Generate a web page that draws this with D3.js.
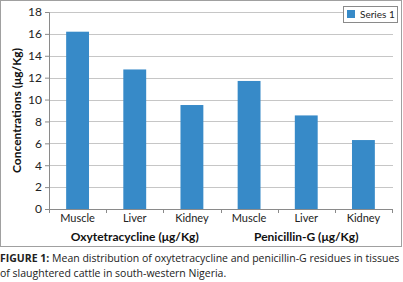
<!DOCTYPE html>
<html>
<head>
<meta charset="utf-8">
<script src="https://cdn.jsdelivr.net/npm/d3@7"></script>
<style>
  body { margin: 0; background: #fff; }
  svg { display: block; }
</style>
</head>
<body>
<svg id="chart" width="403" height="282"></svg>
<script>
// data
const tissues = ["Muscle", "Liver", "Kidney", "Muscle", "Liver", "Kidney"];
const groups = ["Oxytetracycline (μg/Kg)", "Penicillin-G (μg/Kg)"];
const series1 = [16.2, 12.75, 9.5, 11.7, 8.55, 6.3];
const yTicks = [0, 2, 4, 6, 8, 10, 12, 14, 16, 18];
const seriesName = "Series 1";
const captionBold = "FIGURE 1:";
const captionLines = [
  " Mean distribution of oxytetracycline and penicillin-G residues in tissues",
  "of slaughtered cattle in south-western Nigeria."
];

const svg = d3.select("#chart");
const font = "Lato, 'Open Sans', sans-serif";
const margin = { top: 12, right: 11, bottom: 73, left: 49 };
const width = 403 - margin.left - margin.right;
const height = 282 - margin.top - margin.bottom;

// chart frame
svg.append("rect")
  .attr("x", 0.5).attr("y", 0.5)
  .attr("width", 401).attr("height", 246)
  .attr("fill", "#fff").attr("stroke", "#a0a0a0");

const g = svg.append("g")
  .attr("transform", `translate(${margin.left},${margin.top})`);

const keys = tissues.map((d, i) => i);
const x = d3.scaleBand().domain(keys).range([0, width]).paddingInner(0.6).paddingOuter(0.3);
const y = d3.scaleLinear().domain([0, 18]).range([height, 0]);

// gridlines
g.selectAll(".grid")
  .data(yTicks.filter(d => d > 0))
  .join("line")
  .attr("class", "grid")
  .attr("x1", 0).attr("x2", width + 1)
  .attr("y1", d => Math.round(y(d)) + 0.5)
  .attr("y2", d => Math.round(y(d)) + 0.5)
  .attr("stroke", "#c6c6c6");

// bars
g.selectAll(".bar")
  .data(series1)
  .join("rect")
  .attr("class", "bar")
  .attr("x", (d, i) => x(i))
  .attr("width", x.bandwidth())
  .attr("y", d => y(d))
  .attr("height", d => height - y(d))
  .attr("fill", "#378ac8");

// y axis
const yAxis = g.append("g")
  .call(d3.axisLeft(y).tickValues(yTicks).tickSize(4).tickPadding(3));
yAxis.select(".domain").attr("stroke", "#8a8a8a");
yAxis.selectAll(".tick line").attr("stroke", "#8a8a8a");
yAxis.selectAll("text")
  .attr("font-family", font).attr("font-size", 12).attr("fill", "#222");

// x axis with group ticks between every category
const xAxis = g.append("g").attr("transform", `translate(0,${height})`);
xAxis.append("line")
  .attr("x1", 0).attr("x2", width + 1)
  .attr("y1", 0.5).attr("y2", 0.5)
  .attr("stroke", "#8a8a8a");
const step = x.step();
xAxis.selectAll(".xt")
  .data(d3.range(tissues.length + 1))
  .join("line")
  .attr("class", "xt")
  .attr("x1", i => Math.round(i * step) + 0.5)
  .attr("x2", i => Math.round(i * step) + 0.5)
  .attr("y1", 0).attr("y2", 4)
  .attr("stroke", "#8a8a8a");
xAxis.selectAll(".xl")
  .data(tissues)
  .join("text")
  .attr("class", "xl")
  .attr("x", (d, i) => x(i) + x.bandwidth() / 2)
  .attr("y", 13)
  .attr("text-anchor", "middle")
  .attr("font-family", font).attr("font-size", 11).attr("fill", "#222")
  .text(d => d);
xAxis.selectAll(".gl")
  .data(groups)
  .join("text")
  .attr("class", "gl")
  .attr("x", (d, i) => (i * 3 + 1.5) * step)
  .attr("y", 32)
  .attr("text-anchor", "middle")
  .attr("font-family", font).attr("font-size", 12).attr("font-weight", "bold").attr("fill", "#111")
  .text(d => d);

// y title
svg.append("text")
  .attr("transform", `translate(21,${margin.top + height / 2}) rotate(-90)`)
  .attr("text-anchor", "middle")
  .attr("font-family", font).attr("font-size", 12).attr("font-weight", "bold").attr("fill", "#111")
  .text("Concentrations (μg/Kg)");

// legend
const lg = svg.append("g").attr("transform", "translate(343,6)");
lg.append("rect").attr("x", 0.5).attr("y", 0.5).attr("width", 54).attr("height", 16)
  .attr("fill", "#fff").attr("stroke", "#8a8a8a");
lg.append("rect").attr("x", 4).attr("y", 4).attr("width", 8).attr("height", 8).attr("fill", "#378ac8");
lg.append("text").attr("x", 17).attr("y", 12)
  .attr("font-family", font).attr("font-size", 10).attr("fill", "#222")
  .text(seriesName);

// caption
const cap = svg.append("g").attr("font-family", "'Open Sans', sans-serif").attr("font-size", 10.5).attr("fill", "#222");
const t1 = cap.append("text").attr("x", 0).attr("y", 262);
t1.append("tspan").attr("font-weight", "bold").text(captionBold);
t1.append("tspan").text(captionLines[0]);
cap.append("text").attr("x", 0).attr("y", 277).text(captionLines[1]);
</script>
</body>
</html>
